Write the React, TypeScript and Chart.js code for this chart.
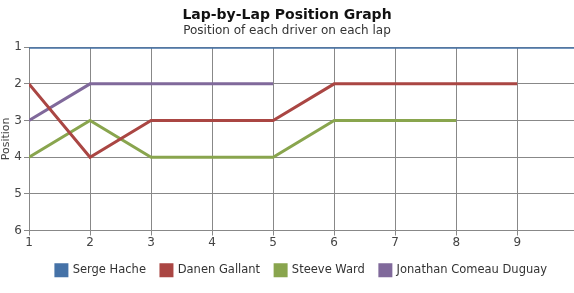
import React, { useEffect, useRef } from "react";
import { Chart, registerables } from "chart.js";

Chart.register(...registerables);

const laps = [1, 2, 3, 4, 5, 6, 7, 8, 9, 10];
const sergeHache = [1, 1, 1, 1, 1, 1, 1, 1, 1, 1];
const danenGallant = [2, 4, 3, 3, 3, 2, 2, 2, 2];
const steeveWard = [4, 3, 4, 4, 4, 3, 3, 3];
const jonathanComeauDuguay = [3, 2, 2, 2, 2];
const seriesNames = ["Serge Hache", "Danen Gallant", "Steeve Ward", "Jonathan Comeau Duguay"];
const seriesColors = ["#4572A7", "#AA4643", "#89A54E", "#80699B"];

const FONT = "'DejaVu Sans', Verdana, sans-serif";

export default function App() {
  const ref = useRef<HTMLCanvasElement | null>(null);
  useEffect(() => {
    const all = [sergeHache, danenGallant, steeveWard, jonathanComeauDuguay];
    const chart = new Chart(ref.current!, {
      type: "line",
      data: {
        datasets: all.map((vals, i) => ({
          label: seriesNames[i],
          data: vals.map((v, j) => ({ x: laps[j], y: v })),
          borderColor: seriesColors[i],
          backgroundColor: seriesColors[i],
          borderWidth: 3,
          pointRadius: 0,
          tension: 0,
          clip: 0,
        })),
      },
      options: {
        animation: false,
        responsive: false,
        maintainAspectRatio: false,
        layout: { padding: { top: 0, right: 0, bottom: 7, left: 0 } },
        plugins: {
          title: {
            display: true,
            text: "Lap-by-Lap Position Graph",
            color: "#111",
            font: { family: FONT, size: 14, weight: "bold" },
            padding: { top: 7, bottom: 0 },
          },
          subtitle: {
            display: true,
            text: "Position of each driver on each lap",
            color: "#333",
            font: { family: FONT, size: 12 },
            padding: { top: 0, bottom: 9 },
          },
          legend: {
            position: "bottom",
            fullSize: false,
            labels: {
              boxWidth: 11,
              boxHeight: 11,
              padding: 15,
              color: "#333",
              font: { family: FONT, size: 11.5 },
            },
          },
          tooltip: { enabled: false },
        },
        scales: {
          x: {
            type: "linear",
            min: 1,
            max: 9.93,
            ticks: {
              stepSize: 1,
              color: "#444",
              font: { family: FONT, size: 12 },
              padding: 0,
              callback: (v: any) => (Number.isInteger(v) ? String(v) : ""),
            },
            grid: { color: "#888", tickLength: 5, lineWidth: 1 },
            border: { color: "#888" },
            afterFit: (s: any) => {
              s.height = 19;
            },
          },
          y: {
            reverse: true,
            min: 1,
            max: 6,
            ticks: {
              stepSize: 1,
              color: "#444",
              font: { family: FONT, size: 12 },
              padding: 2,
            },
            title: {
              display: true,
              text: "Position",
              color: "#444",
              font: { family: FONT, size: 11 },
              padding: 0,
            },
            grid: { color: "#888", tickLength: 5, lineWidth: 1 },
            border: { color: "#888" },
            afterFit: (s: any) => {
              s.width = 29;
            },
          },
        },
      },
    });
    return () => chart.destroy();
  }, []);
  return (
    <div style={{ position: "absolute", left: 0, top: 0, width: 574, height: 293, background: "#fff" }}>
      <canvas ref={ref} width={574} height={293} style={{ width: 574, height: 293 }} />
    </div>
  );
}
